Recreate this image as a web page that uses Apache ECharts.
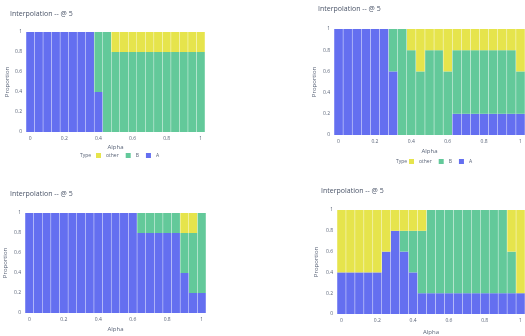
<!DOCTYPE html>
<html>
<head>
<meta charset="utf-8">
<script src="https://cdn.jsdelivr.net/npm/echarts@6/dist/echarts.min.js"></script>
<style>
  html, body { margin: 0; padding: 0; background: #fff; }
  #chart { width: 525px; height: 336px; }
</style>
</head>
<body>
<div id="chart"></div>
<script>
// Alpha values (one bar per value)
const alphas = [0, 0.05, 0.1, 0.15, 0.2, 0.25, 0.3, 0.35, 0.4, 0.45, 0.5,
                0.55, 0.6, 0.65, 0.7, 0.75, 0.8, 0.85, 0.9, 0.95, 1];
const yTicks = [0, 0.2, 0.4, 0.6, 0.8, 1];
const typeNames = ['A', 'B', 'other'];
const chartTitle = 'Interpolation -- @ 5';

// Panel 1 (top left)
const p1A     = [1, 1, 1, 1, 1, 1, 1, 1, 0.4, 0, 0, 0, 0, 0, 0, 0, 0, 0, 0, 0, 0];
const p1B     = [0, 0, 0, 0, 0, 0, 0, 0, 0.6, 1, 0.8, 0.8, 0.8, 0.8, 0.8, 0.8, 0.8, 0.8, 0.8, 0.8, 0.8];
const p1Other = [0, 0, 0, 0, 0, 0, 0, 0, 0, 0, 0.2, 0.2, 0.2, 0.2, 0.2, 0.2, 0.2, 0.2, 0.2, 0.2, 0.2];

// Panel 2 (top right)
const p2A     = [1, 1, 1, 1, 1, 1, 0.6, 0, 0, 0, 0, 0, 0, 0.2, 0.2, 0.2, 0.2, 0.2, 0.2, 0.2, 0.2];
const p2B     = [0, 0, 0, 0, 0, 0, 0.4, 1, 0.8, 0.6, 0.8, 0.8, 0.6, 0.6, 0.6, 0.6, 0.6, 0.6, 0.6, 0.6, 0.4];
const p2Other = [0, 0, 0, 0, 0, 0, 0, 0, 0.2, 0.4, 0.2, 0.2, 0.4, 0.2, 0.2, 0.2, 0.2, 0.2, 0.2, 0.2, 0.4];

// Panel 3 (bottom left)
const p3A     = [1, 1, 1, 1, 1, 1, 1, 1, 1, 1, 1, 1, 1, 0.8, 0.8, 0.8, 0.8, 0.8, 0.4, 0.2, 0.2];
const p3B     = [0, 0, 0, 0, 0, 0, 0, 0, 0, 0, 0, 0, 0, 0.2, 0.2, 0.2, 0.2, 0.2, 0.4, 0.6, 0.8];
const p3Other = [0, 0, 0, 0, 0, 0, 0, 0, 0, 0, 0, 0, 0, 0, 0, 0, 0, 0, 0.2, 0.2, 0];

// Panel 4 (bottom right)
const p4A     = [0.4, 0.4, 0.4, 0.4, 0.4, 0.6, 0.8, 0.6, 0.4, 0.2, 0.2, 0.2, 0.2, 0.2, 0.2, 0.2, 0.2, 0.2, 0.2, 0.2, 0.2];
const p4B     = [0, 0, 0, 0, 0, 0, 0, 0.2, 0.4, 0.6, 0.8, 0.8, 0.8, 0.8, 0.8, 0.8, 0.8, 0.8, 0.8, 0.4, 0];
const p4Other = [0.6, 0.6, 0.6, 0.6, 0.6, 0.4, 0.2, 0.2, 0.2, 0.2, 0, 0, 0, 0, 0, 0, 0, 0, 0, 0.4, 0.8];

const panels = [
  { A: p1A, B: p1B, other: p1Other },
  { A: p2A, B: p2B, other: p2Other },
  { A: p3A, B: p3B, other: p3Other },
  { A: p4A, B: p4B, other: p4Other }
];

const colors = { A: '#646ff0', B: '#63c99a', other: '#e6e44c' };
const textColor = '#5a6478';

// Layout of each panel
const layout = [
  { left: 26,  top: 32,  width: 179, height: 100, title: [10, 14],  xGap: 12, yGap: 16 },
  { left: 334, top: 29,  width: 192, height: 106, title: [318, 9],  xGap: 13, yGap: 17 },
  { left: 25,  top: 213, width: 181, height: 100, title: [10, 194], xGap: 13, yGap: 17 },
  { left: 337, top: 210, width: 192, height: 105, title: [321, 191], xGap: 15, yGap: 18 }
];

const grid = [], xAxis = [], yAxis = [], series = [], graphic = [];

layout.forEach((g, i) => {
  grid.push({ left: g.left, top: g.top, width: g.width, height: g.height, containLabel: false });
  xAxis.push({
    type: 'category',
    gridIndex: i,
    data: alphas,
    boundaryGap: true,
    name: 'Alpha',
    nameLocation: 'middle',
    nameGap: g.xGap,
    nameTextStyle: { fontSize: 6, color: textColor, fontFamily: 'Open Sans' },
    axisLine: { show: false },
    axisTick: { show: false },
    axisLabel: {
      interval: 3,
      fontSize: 5,
      margin: 4,
      color: textColor,
      fontFamily: 'Open Sans',
      formatter: v => String(Number(v))
    },
    splitLine: { show: false }
  });
  yAxis.push({
    type: 'value',
    gridIndex: i,
    min: yTicks[0],
    max: yTicks[yTicks.length - 1],
    interval: 0.2,
    name: 'Proportion',
    nameLocation: 'middle',
    nameGap: g.yGap,
    nameTextStyle: { fontSize: 6, color: textColor, fontFamily: 'Open Sans' },
    axisLine: { show: false },
    axisTick: { show: false },
    axisLabel: {
      fontSize: 5,
      margin: 4,
      color: textColor,
      fontFamily: 'Open Sans',
      formatter: v => String(Math.round(v * 10) / 10)
    },
    splitLine: { show: false }
  });
  typeNames.forEach(t => {
    series.push({
      name: t,
      type: 'bar',
      xAxisIndex: i,
      yAxisIndex: i,
      stack: 'p' + i,
      barCategoryGap: '5%',
      data: panels[i][t],
      itemStyle: { color: colors[t] },
      emphasis: { disabled: true },
      silent: true,
      animation: false
    });
  });
  graphic.push({
    type: 'text',
    left: g.title[0],
    top: g.title[1] - 4,
    style: { text: chartTitle, fontSize: 7, fill: '#4a5468', fontFamily: 'Open Sans' }
  });
});

// Legend captions
graphic.push({ type: 'text', left: 80, top: 153, style: { text: 'Type', fontSize: 5, fill: textColor, fontFamily: 'Open Sans' } });
graphic.push({ type: 'text', left: 396, top: 159, style: { text: 'Type', fontSize: 5, fill: textColor, fontFamily: 'Open Sans' } });

const legendBase = {
  data: ['other', 'B', 'A'],
  orient: 'horizontal',
  icon: 'rect',
  padding: 0,
  itemWidth: 5,
  itemHeight: 5,
  itemGap: 7,
  textStyle: { fontSize: 5, color: textColor, fontFamily: 'Open Sans' },
  selectedMode: false
};

const chart = echarts.init(document.getElementById('chart'), null, { renderer: 'canvas' });
chart.setOption({
  animation: false,
  backgroundColor: '#ffffff',
  grid,
  xAxis,
  yAxis,
  series,
  graphic,
  legend: [
    Object.assign({}, legendBase, { left: 96, top: 153 }),
    Object.assign({}, legendBase, { left: 409, top: 159 })
  ]
});
</script>
</body>
</html>
